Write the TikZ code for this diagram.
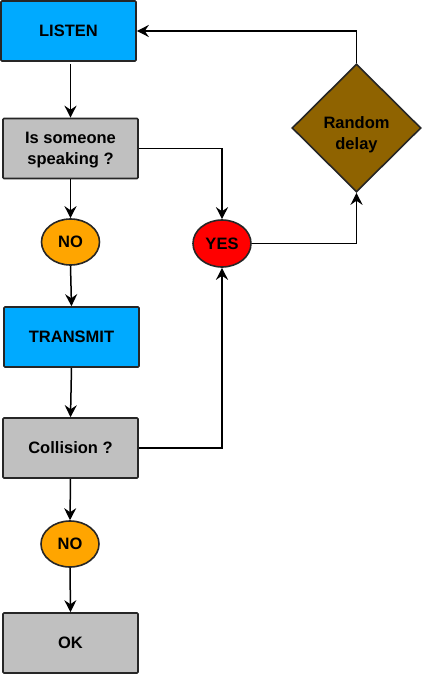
\documentclass[tikz,border=0pt]{standalone}
\usepackage{fontspec}
\setmainfont{Liberation Sans}
\usetikzlibrary{shapes.geometric,arrows.meta}
\definecolor{cblue}{RGB}{0,170,255}
\definecolor{cgray}{RGB}{192,192,192}
\definecolor{corange}{RGB}{255,165,0}
\definecolor{cred}{RGB}{255,0,0}
\definecolor{cbrown}{RGB}{143,99,0}
\tikzset{
  txt/.style={font=\fontsize{16.5}{21}\selectfont\bfseries, text=black, align=center, inner sep=0pt},
  base/.style={txt, draw=black!85, line width=1.6pt},
  box/.style={base, rectangle, rounded corners=1pt, minimum width=135pt, minimum height=60pt},
  oval/.style={base, ellipse, minimum width=58pt, minimum height=46pt},
  dia/.style={base, diamond, minimum width=129pt, minimum height=128pt},
  arr/.style={draw=black, line width=1.5pt, -{Stealth[length=12pt,width=12pt,inset=4pt]}},
}
\begin{document}
\begin{tikzpicture}[x=1pt,y=-1pt]
\useasboundingbox (0,0) rectangle (422,674);
\node[box, fill=cblue] (listen) at (68.5,31) {LISTEN};
\node[box, fill=cgray, text depth=-1pt] (speak) at (70.5,148.5) {Is someone\\speaking ?};
\node[oval, fill=corange] (no1) at (70.5,242) {NO};
\node[box, fill=cblue] (transmit) at (71.5,337) {TRANSMIT};
\node[box, fill=cgray] (coll) at (70.5,448) {Collision ?};
\node[oval, fill=corange] (no2) at (70,544) {NO};
\node[box, fill=cgray] (ok) at (70.5,643) {OK};
\node[oval, fill=cred, minimum height=47pt] (yes) at (222,243.5) {YES};
\node[dia, fill=cbrown, label={[txt, yshift=-7pt]center:Random\\delay}] (delay) at (356.5,128) {};

\draw[arr, shorten <=2pt] (listen.south -| speak.north) -- (speak.north);
\draw[arr] (speak.south) -- (no1.north);
\draw[arr] (no1.south) -- (transmit.north);
\draw[arr] (transmit.south) -- (coll.north);
\draw[arr] (coll.south) -- (no2.north);
\draw[arr] (no2.south) -- (ok.north);
\draw[arr] (speak.east) -| (yes.north);
\draw[arr] (coll.east) -| (yes.south);
\draw[arr] (yes.east) -| (delay.south);
\draw[arr] (delay.north) |- (listen.east);
\end{tikzpicture}
\end{document}
